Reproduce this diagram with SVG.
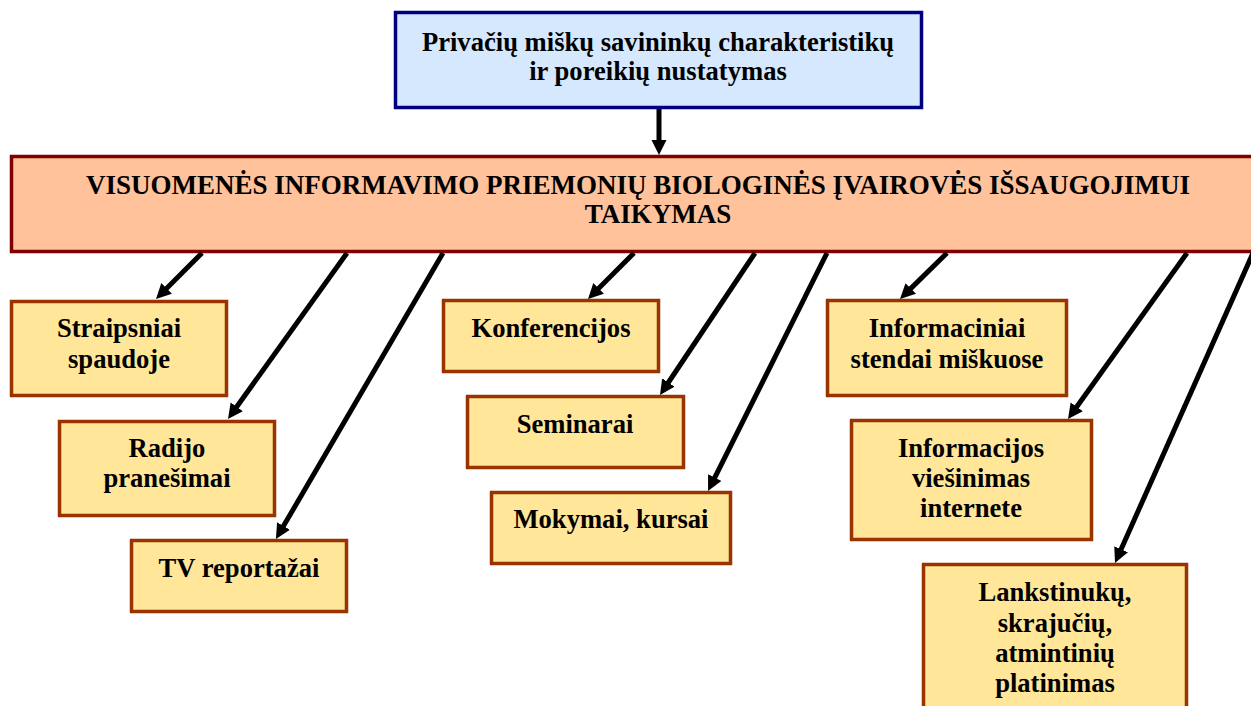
<svg xmlns="http://www.w3.org/2000/svg" width="1251" height="706" viewBox="0 0 1251 706">
<style>
text{font-family:"Liberation Serif","Times New Roman",serif;font-weight:bold;font-size:26.6px;fill:#000;text-anchor:middle}
.big{font-size:27px}
.item{fill:#FFE699;stroke:#993300;stroke-width:3.5}
.conn{stroke:#000;stroke-width:5;fill:none}
</style>
<defs>
<marker id="ah" markerUnits="userSpaceOnUse" markerWidth="18" markerHeight="16" refX="3" refY="7.5" orient="auto">
<path d="M0,0 L15,7.5 L0,15 Z" fill="#000"/>
</marker>
</defs>
<rect width="1251" height="706" fill="#fff"/>
<g id="top">
<rect x="395.5" y="12.5" width="526" height="95" fill="#D5E8FD" stroke="#000080" stroke-width="3.5"/>
<text x="658" y="51">Privačių miškų savininkų charakteristikų</text>
<text x="658" y="80">ir poreikių nustatymas</text>
</g>
<g id="main">
<rect x="11.5" y="156.5" width="1270" height="95" fill="#FFC29B" stroke="#800000" stroke-width="3.5"/>
<text class="big" x="638" y="194">VISUOMENĖS INFORMAVIMO PRIEMONIŲ BIOLOGINĖS ĮVAIROVĖS IŠSAUGOJIMUI</text>
<text class="big" x="658" y="223">TAIKYMAS</text>
</g>
<g id="n1"><rect class="item" x="11.5" y="301.5" width="215" height="94"/><text x="119" y="337">Straipsniai</text><text x="119" y="368">spaudoje</text></g>
<g id="n2"><rect class="item" x="59.5" y="421.5" width="215" height="94"/><text x="167" y="457">Radijo</text><text x="167" y="487">pranešimai</text></g>
<g id="n3"><rect class="item" x="131.5" y="540.5" width="215" height="71"/><text x="239" y="577">TV reportažai</text></g>
<g id="n4"><rect class="item" x="443.5" y="300.5" width="215" height="71"/><text x="551" y="337">Konferencijos</text></g>
<g id="n5"><rect class="item" x="467.5" y="396.5" width="216" height="71"/><text x="575" y="433">Seminarai</text></g>
<g id="n6"><rect class="item" x="491.5" y="492.5" width="239" height="71"/><text x="611" y="528">Mokymai, kursai</text></g>
<g id="n7"><rect class="item" x="827.5" y="300.5" width="239" height="95"/><text x="947" y="337">Informaciniai</text><text x="947" y="368">stendai miškuose</text></g>
<g id="n8"><rect class="item" x="851.5" y="420.5" width="240" height="119"/><text x="971" y="457">Informacijos</text><text x="971" y="487">viešinimas</text><text x="971" y="517">internete</text></g>
<g id="n9"><rect class="item" x="923.5" y="564.5" width="263" height="160"/><text x="1055" y="601">Lankstinukų,</text><text x="1055" y="632">skrajučių,</text><text x="1055" y="662">atmintinių</text><text x="1055" y="692">platinimas</text></g>
<g id="connectors" class="conn" marker-end="url(#ah)">
<line x1="659" y1="109" x2="659" y2="143"/>
<line x1="202" y1="253" x2="164.5" y2="290.5"/>
<line x1="347" y1="253" x2="235" y2="409.2"/>
<line x1="443" y1="253" x2="282" y2="528.6"/>
<line x1="634" y1="253" x2="596.5" y2="290.5"/>
<line x1="755" y1="253" x2="666.7" y2="385"/>
<line x1="827" y1="253" x2="713.4" y2="480.3"/>
<line x1="947" y1="253" x2="908.6" y2="290.6"/>
<line x1="1187" y1="253" x2="1075" y2="409.2"/>
<line x1="1253" y1="253" x2="1119.9" y2="552"/>
</g>
</svg>
